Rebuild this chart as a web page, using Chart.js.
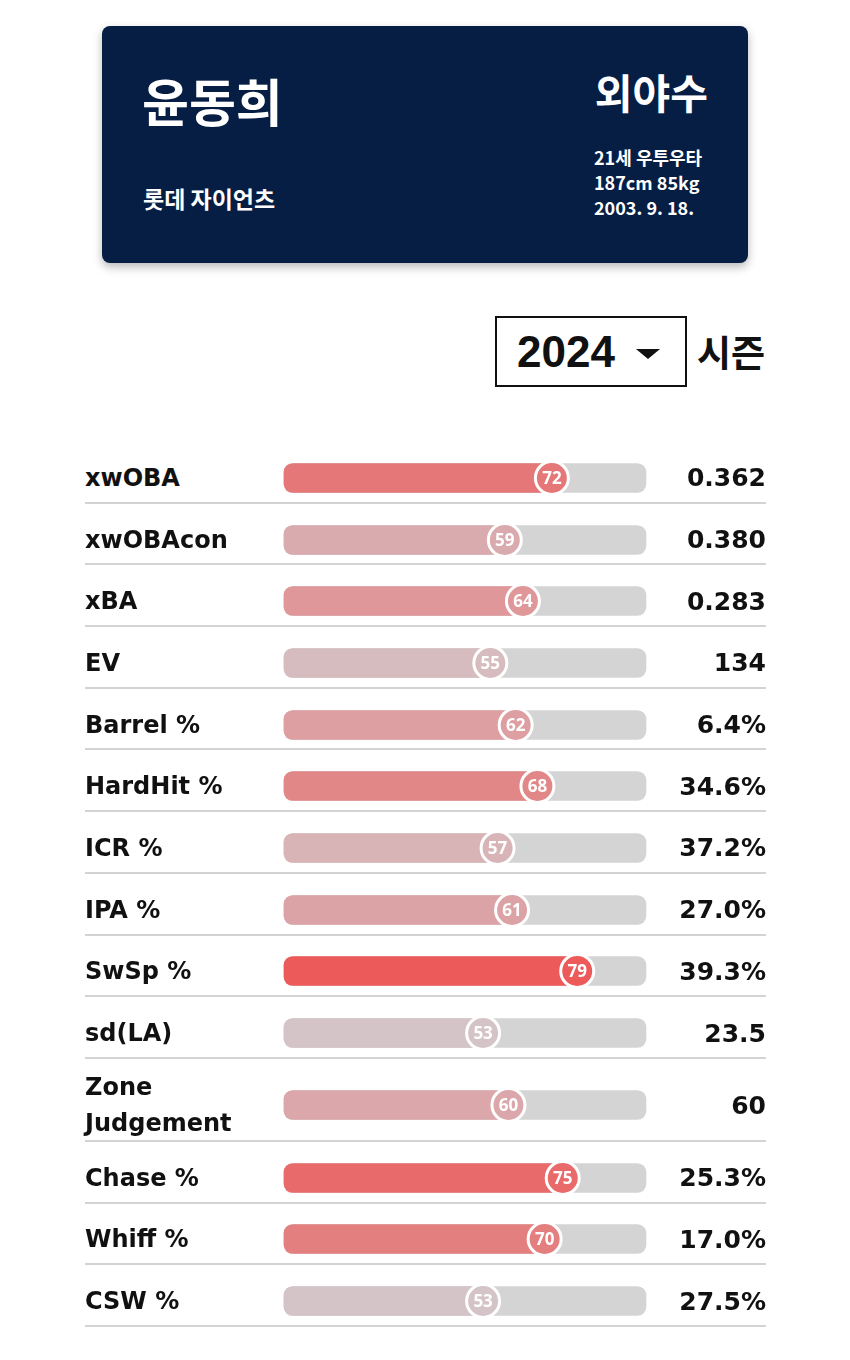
<!DOCTYPE html>
<html>
<head>
<meta charset="utf-8">
<script src="https://cdn.jsdelivr.net/npm/chart.js@4.4.0/dist/chart.umd.min.js"></script>
<style>
    body { margin: 0; background: #fff; width: 850px; height: 1360px; position: relative; overflow: hidden; }
    .card { position: absolute; left: 102px; top: 26px; width: 646px; height: 237px; background: #061e44;
        border-radius: 8px; box-shadow: 0 4px 10px rgba(0,0,0,0.28); color: #fff;
        font-family: "Noto Sans CJK KR", sans-serif; font-weight: 700; }
    .abs { position: absolute; white-space: nowrap; }
    .sel { position: absolute; left: 495px; top: 316px; width: 192px; height: 71px; box-sizing: border-box;
        border: 2px solid #111; }
    .tri { position: absolute; left: 139px; top: 31px; width: 0; height: 0;
        border-left: 12px solid transparent; border-right: 12px solid transparent; border-top: 10px solid #111; }
    #table { position: absolute; left: 85px; top: 442px; width: 681px; }
    .row { display: flex; align-items: center; box-sizing: border-box; height: 61.7px; padding-top: 12px;
        border-bottom: 2px solid #d3d3d3; }
    .row.tall { height: 83px; }
    .lab { width: 185px; font-family: "DejaVu Sans", sans-serif; font-weight: 700; font-size: 24px;
        line-height: 36px; color: #111; }
    .bar { width: 390px; height: 44px; }
    .val { width: 106px; text-align: right; font-family: "DejaVu Sans", sans-serif; font-weight: 700;
        font-size: 25px; color: #111; }
</style>
</head>
<body>
<div class="card">
    <div class="abs" style="left:40px; top:43px; font-size:51px; line-height:62px;">윤동희</div>
    <div class="abs" style="left:41px; top:157px; font-size:23px; line-height:30px;">롯데 자이언츠</div>
    <div class="abs" style="right:40px; top:40px; font-size:41px; line-height:50px;">외야수</div>
    <div class="abs" style="left:492px; top:119px; font-size:18px; line-height:25px;">21세 우투우타<br>187cm 85kg<br>2003. 9. 18.</div>
</div>
<div class="sel">
    <div class="abs" style="left:20px; top:0; line-height:67px; font-family:'Liberation Sans',sans-serif; font-weight:700; font-size:44px; color:#111;">2024</div>
    <div class="tri"></div>
</div>
<div class="abs" style="left:697px; top:316px; line-height:71px; font-family:'Noto Sans CJK KR',sans-serif; font-weight:700; font-size:37px; color:#111;">시즌</div>

<div id="table"></div>

<script>
const metrics = ['xwOBA', 'xwOBAcon', 'xBA', 'EV', 'Barrel %', 'HardHit %', 'ICR %', 'IPA %',
    'SwSp %', 'sd(LA)', 'Zone Judgement', 'Chase %', 'Whiff %', 'CSW %'];
const percentiles = [72, 59, 64, 55, 62, 68, 57, 61, 79, 53, 60, 75, 70, 53];
const statValues = ['0.362', '0.380', '0.283', '134', '6.4%', '34.6%', '37.2%', '27.0%',
    '39.3%', '23.5', '60', '25.3%', '17.0%', '27.5%'];

const scaleMin = -2;
const scaleMax = 98;

// grey at 50th percentile -> red at 80th
function pctColor(p) {
    const t = (p - 50) / 30;
    const r = Math.round(210 + (237 - 210) * t);
    const g = Math.round(208 + (86 - 208) * t);
    const b = Math.round(212 + (86 - 212) * t);
    return `rgb(${r},${g},${b})`;
}

const bubbleText = {
    id: 'bubbleText',
    afterDatasetsDraw(chart) {
        const meta = chart.getDatasetMeta(2);
        const ctx = chart.ctx;
        meta.data.forEach((pt, i) => {
            ctx.save();
            ctx.fillStyle = '#fff';
            ctx.font = '700 17px "Open Sans", sans-serif';
            ctx.textAlign = 'center';
            ctx.textBaseline = 'middle';
            ctx.fillText(String(chart.data.datasets[2].data[i].x), pt.x, pt.y + 1);
            ctx.restore();
        });
    }
};

const table = document.getElementById('table');

metrics.forEach((name, i) => {
    const row = document.createElement('div');
    row.className = 'row' + (name.length > 12 ? ' tall' : '');
    row.innerHTML = `<div class="lab">${name}</div><div class="bar"><canvas width="390" height="44"></canvas></div><div class="val">${statValues[i]}</div>`;
    table.appendChild(row);

    const p = percentiles[i];
    const col = pctColor(p);
    new Chart(row.querySelector('canvas'), {
        type: 'bar',
        data: {
            labels: ['k'],
            datasets: [{
                data: [[scaleMin, scaleMax]],
                backgroundColor: '#d4d4d4',
                borderRadius: 9,
                borderSkipped: false,
                barThickness: 29,
                clip: false,
                order: 3
            }, {
                data: [[scaleMin, p]],
                backgroundColor: col,
                borderRadius: 9,
                borderSkipped: false,
                barThickness: 29,
                clip: false,
                order: 2
            }, {
                type: 'scatter',
                data: [{ x: p, y: 'k' }],
                backgroundColor: col,
                borderColor: '#fff',
                borderWidth: 3,
                pointRadius: 16.5,
                clip: false,
                order: 1
            }]
        },
        options: {
            indexAxis: 'y',
            responsive: false,
            animation: false,
            events: [],
            layout: { autoPadding: false, padding: { left: 14, right: 14, top: 0, bottom: 0 } },
            plugins: { legend: { display: false }, tooltip: { enabled: false } },
            scales: {
                x: { type: 'linear', min: scaleMin, max: scaleMax, stacked: false, display: false },
                y: { type: 'category', stacked: true, display: false }
            }
        },
        plugins: [bubbleText]
    });
});
</script>
</body>
</html>
